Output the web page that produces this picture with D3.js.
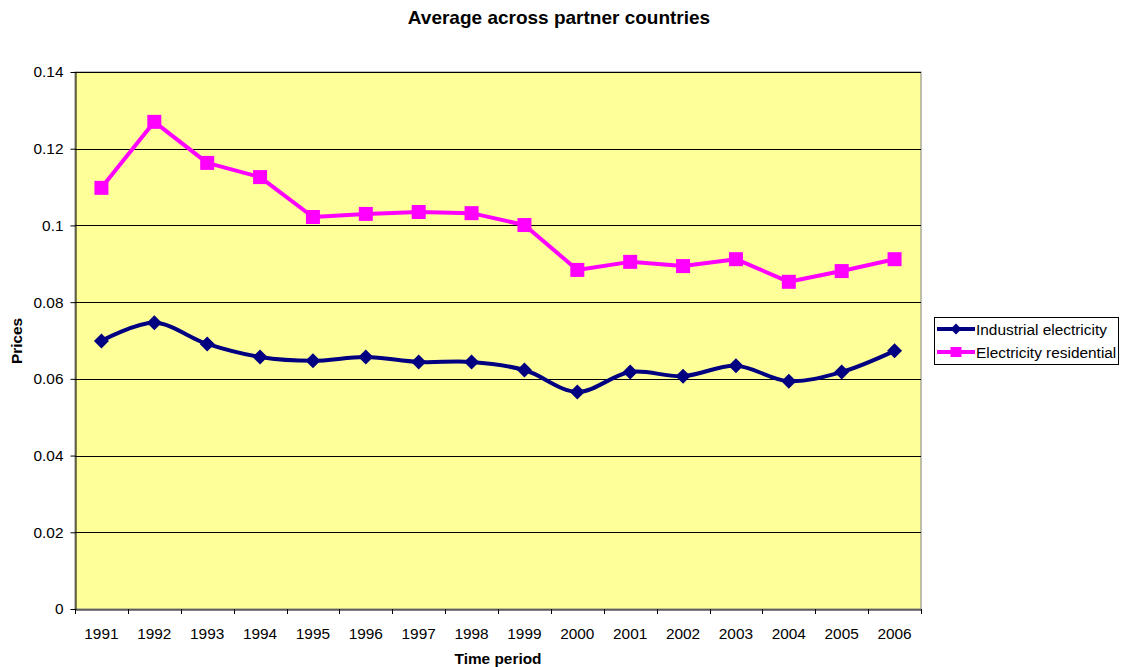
<!DOCTYPE html>
<html><head><meta charset="utf-8">
<script src="https://cdn.jsdelivr.net/npm/d3@7"></script>
<style>body{margin:0;background:#fff;font-family:"Liberation Sans",Arial,sans-serif;}</style>
</head><body>
<svg id="c" width="1121" height="667"></svg>
<script>
const years = ["1991","1992","1993","1994","1995","1996","1997","1998","1999","2000","2001","2002","2003","2004","2005","2006"];
const industrial = [0.0699,0.0746,0.0691,0.0657,0.0647,0.0657,0.0644,0.0644,0.0623,0.0566,0.0618,0.0607,0.0634,0.0594,0.0618,0.0673];
const residential = [0.1098,0.1270,0.1163,0.1126,0.1022,0.1030,0.1035,0.1032,0.1001,0.0884,0.0905,0.0894,0.0912,0.0853,0.0881,0.0912];
const yTicks = [0,0.02,0.04,0.06,0.08,0.1,0.12,0.14];
const seriesNames = ["Industrial electricity","Electricity residential"];

const FS = 15.4;
const svg = d3.select("#c");
const L=75,R=921,T=72,B=609;
const x = d3.scaleBand().domain(years).range([L,R]);
const y = d3.scaleLinear().domain([0,0.14]).range([B,T]);

svg.append("rect").attr("x",L).attr("y",T).attr("width",R-L).attr("height",B-T)
  .attr("fill","#ffff99").attr("stroke","#808080").attr("stroke-width",1);

svg.append("g").selectAll("line").data(yTicks.slice(1)).join("line")
  .attr("x1",L).attr("x2",R).attr("y1",d=>Math.round(y(d))+0.5).attr("y2",d=>Math.round(y(d))+0.5)
  .attr("stroke","#000").attr("stroke-width",1);

const yAxis = svg.append("g").attr("transform",`translate(${L+0.5},0)`)
  .call(d3.axisLeft(y).tickValues(yTicks).tickSize(5).tickSizeOuter(0).tickFormat(d=>String(+d.toFixed(2))));
yAxis.select(".domain").attr("stroke","#000");
yAxis.selectAll("text").attr("font-size",FS).attr("font-family","Liberation Sans, Arial").attr("fill","#000").attr("dx",-4);

const xAxis = svg.append("g").attr("transform",`translate(0,${B+0.5})`)
  .call(d3.axisBottom(x).tickSize(0).tickSizeOuter(0));
xAxis.select(".domain").attr("stroke","#000");
xAxis.selectAll("text").attr("font-size",FS).attr("font-family","Liberation Sans, Arial").attr("fill","#000").attr("y",0).attr("dy",0).attr("transform","translate(0,29)");
const bounds = years.map(d=>x(d)).concat([R]);
svg.append("g").selectAll("line").data(bounds).join("line")
  .attr("x1",d=>Math.round(d)+0.5).attr("x2",d=>Math.round(d)+0.5).attr("y1",B).attr("y2",B+5).attr("stroke","#000");

const cx = d=>x(d)+x.bandwidth()/2;
const lineInd = d3.line().x((d,i)=>cx(years[i])).y(d=>y(d)).curve(d3.curveCatmullRom.alpha(0.5));
const lineRes = d3.line().x((d,i)=>cx(years[i])).y(d=>y(d));

svg.append("path").datum(residential).attr("d",lineRes).attr("fill","none").attr("stroke","#ff00ff").attr("stroke-width",4).attr("stroke-linejoin","round");
svg.append("g").selectAll("rect").data(residential).join("rect")
  .attr("x",(d,i)=>cx(years[i])-7).attr("y",d=>y(d)-7).attr("width",14).attr("height",14).attr("fill","#ff00ff");

svg.append("path").datum(industrial).attr("d",lineInd).attr("fill","none").attr("stroke","#000080").attr("stroke-width",4);
svg.append("g").selectAll("path").data(industrial).join("path")
  .attr("d",(d,i)=>{const px=cx(years[i]),py=y(d),s=7.5;return `M${px},${py-s}L${px+s},${py}L${px},${py+s}L${px-s},${py}Z`;})
  .attr("fill","#000080");

svg.append("text").attr("x",559).attr("y",24).attr("text-anchor","middle").attr("font-weight","bold").attr("font-size",19).text("Average across partner countries");
svg.append("text").attr("x",498).attr("y",664).attr("text-anchor","middle").attr("font-weight","bold").attr("font-size",FS).text("Time period");
svg.append("text").attr("transform","translate(22,341) rotate(-90)").attr("text-anchor","middle").attr("font-weight","bold").attr("font-size",FS).text("Prices");

const lg = svg.append("g");
lg.append("rect").attr("x",934.5).attr("y",317.5).attr("width",184).attr("height",47).attr("fill","#fff").attr("stroke","#000");
const colors=["#000080","#ff00ff"];
seriesNames.forEach((n,i)=>{
  const ly=329+i*23;
  lg.append("line").attr("x1",937).attr("x2",975).attr("y1",ly).attr("y2",ly).attr("stroke",colors[i]).attr("stroke-width",4);
  if(i===0){lg.append("path").attr("d",`M956,${ly-5.5}L961.5,${ly}L956,${ly+5.5}L950.5,${ly}Z`).attr("fill",colors[i]);}
  else{lg.append("rect").attr("x",950.5).attr("y",ly-5).attr("width",11).attr("height",10).attr("fill",colors[i]);}
  lg.append("text").attr("x",976).attr("y",ly+5.5).attr("font-size",FS).text(n);
});
</script>
</body></html>
